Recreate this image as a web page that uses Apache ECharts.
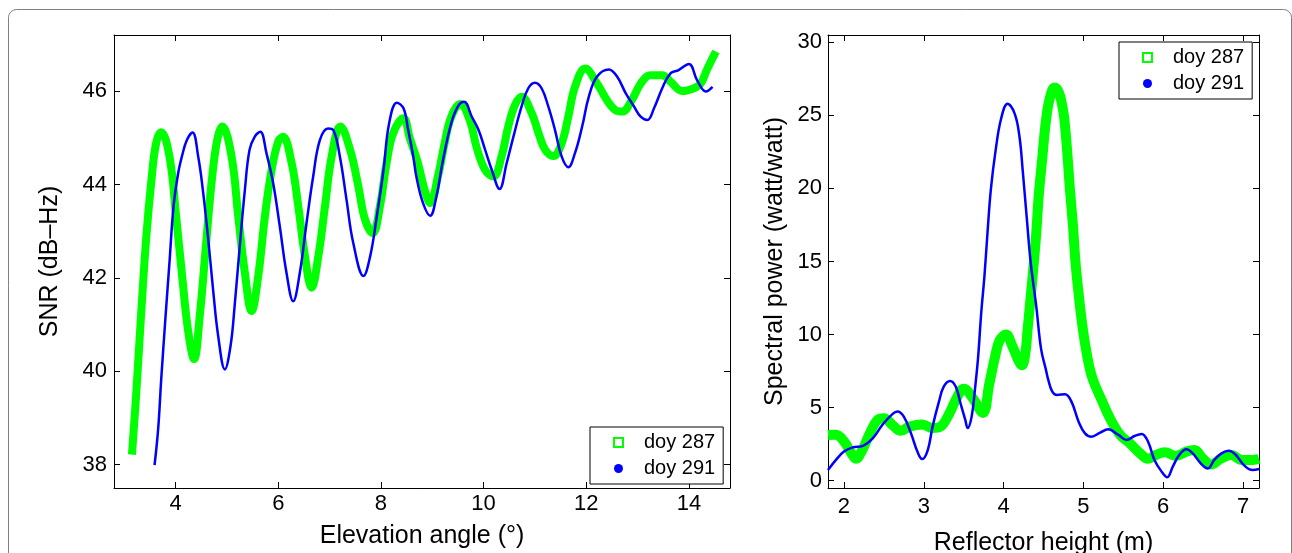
<!DOCTYPE html>
<html>
<head>
<meta charset="utf-8">
<style>
html,body{margin:0;padding:0;background:#fff;}
#chart{width:1292px;height:553px;}
</style>
<script src="https://cdn.jsdelivr.net/npm/echarts@6/dist/echarts.min.js"></script>
</head>
<body>
<div id="chart"></div>
<script>
// ---- Left panel: SNR vs elevation angle ----
const elev287 = [3.155,3.23,3.33,3.43,3.53,3.62,3.72,3.88,4.01,4.14,4.24,4.36,4.47,4.59,4.70,4.81,4.91,5.09,5.22,5.35,5.48,5.61,5.74,5.87,6.00,6.09,6.26,6.39,6.52,6.65,6.78,6.91,7.04,7.21,7.40,7.56,7.69,7.84,7.98,8.11,8.24,8.44,8.56,8.72,8.85,8.96,9.11,9.24,9.37,9.54,9.73,9.86,10.03,10.19,10.35,10.48,10.61,10.74,10.94,11.07,11.20,11.36,11.52,11.65,11.78,11.98,12.21,12.40,12.57,12.70,12.89,13.06,13.25,13.48,13.64,13.87,14.10,14.23,14.36,14.49];
const snr287 = [38.30,39.47,41.25,42.89,44.10,44.88,45.12,44.60,43.32,41.90,40.90,40.26,41.18,42.68,44.03,44.95,45.24,44.60,43.32,42.10,41.29,42.04,43.32,44.31,44.92,45.02,44.46,43.53,42.46,41.79,42.46,43.53,44.60,45.24,44.74,43.96,43.25,42.96,43.53,44.46,45.10,45.42,45.00,44.46,43.89,43.60,44.17,44.88,45.45,45.72,45.38,44.81,44.31,44.17,44.60,45.24,45.70,45.88,45.52,45.10,44.74,44.61,44.88,45.45,46.09,46.48,46.16,45.81,45.59,45.56,45.81,46.16,46.34,46.34,46.20,46.00,46.06,46.16,46.48,46.77];

const elev291 = [3.59,3.66,3.72,3.80,3.88,3.96,4.05,4.13,4.22,4.33,4.44,4.53,4.63,4.73,4.83,4.96,5.07,5.15,5.25,5.35,5.44,5.54,5.65,5.77,5.90,6.03,6.16,6.29,6.42,6.55,6.68,6.81,6.97,7.07,7.20,7.33,7.46,7.66,7.79,7.92,8.05,8.16,8.31,8.44,8.53,8.63,8.69,8.82,8.96,9.08,9.21,9.37,9.50,9.62,9.77,9.90,10.03,10.16,10.31,10.45,10.58,10.74,10.87,11.00,11.13,11.26,11.39,11.52,11.65,11.78,11.92,12.05,12.21,12.44,12.60,12.77,12.93,13.06,13.19,13.32,13.48,13.64,13.80,14.00,14.16,14.33,14.46];
const snr291 = [37.99,38.76,39.83,41.11,42.32,43.53,44.24,44.63,44.95,45.11,44.60,43.89,42.89,41.75,40.75,40.04,40.54,41.40,42.68,43.89,44.74,45.02,45.13,44.67,44.03,43.10,42.11,41.50,42.11,43.17,44.17,44.95,45.20,45.17,44.60,43.67,42.75,42.04,42.46,43.32,44.31,45.31,45.75,45.63,45.17,44.60,44.17,43.60,43.33,43.74,44.53,45.31,45.67,45.77,45.45,45.17,44.74,44.31,43.90,44.46,45.02,45.67,46.06,46.18,46.06,45.67,45.17,44.60,44.37,44.67,45.24,45.88,46.31,46.46,46.31,45.95,45.67,45.45,45.38,45.63,46.06,46.38,46.45,46.58,46.23,45.99,46.09];

// ---- Right panel: spectral power vs reflector height ----
const height287 = [1.80,1.90,2.00,2.09,2.15,2.23,2.32,2.42,2.50,2.61,2.71,2.82,2.98,3.11,3.21,3.32,3.42,3.50,3.62,3.74,3.82,3.89,3.95,4.03,4.11,4.18,4.23,4.27,4.30,4.34,4.38,4.41,4.44,4.48,4.53,4.58,4.64,4.69,4.73,4.76,4.80,4.83,4.87,4.90,4.94,4.98,5.02,5.07,5.12,5.23,5.33,5.46,5.58,5.71,5.81,5.91,6.02,6.16,6.29,6.39,6.49,6.60,6.72,6.85,6.99,7.12,7.20];
const power287 = [3.13,3.15,2.70,1.90,1.50,2.10,3.20,4.15,4.27,3.80,3.42,3.70,3.85,3.60,3.70,4.60,5.75,6.30,5.60,4.64,6.60,8.40,9.60,10.00,9.20,8.30,7.90,8.60,10.30,12.60,15.00,17.00,19.50,21.80,24.60,26.20,26.90,26.60,25.80,24.80,22.30,20.00,17.40,15.00,12.80,10.90,9.40,7.90,6.90,5.50,4.30,3.13,2.56,1.87,1.50,1.76,1.94,1.70,1.99,2.10,1.55,1.10,1.50,1.76,1.42,1.42,1.50];

const height291 = [1.80,1.90,2.00,2.11,2.23,2.36,2.48,2.61,2.67,2.75,2.84,2.92,2.98,3.05,3.11,3.19,3.25,3.33,3.40,3.46,3.52,3.55,3.60,3.64,3.68,3.72,3.76,3.80,3.84,3.90,3.97,4.05,4.14,4.20,4.24,4.29,4.34,4.41,4.47,4.53,4.56,4.61,4.67,4.77,4.85,4.94,5.02,5.10,5.21,5.31,5.44,5.54,5.64,5.73,5.81,5.89,5.98,6.05,6.12,6.20,6.29,6.37,6.47,6.56,6.64,6.73,6.82,6.91,7.01,7.12,7.20];
const power291 = [0.73,1.42,1.99,2.28,2.37,2.90,3.81,4.57,4.73,4.38,3.24,1.99,1.48,2.10,3.70,5.41,6.44,6.83,6.44,5.30,4.16,3.60,4.40,6.20,8.40,11.50,14.00,17.10,19.90,22.60,24.80,25.80,25.10,23.50,21.20,18.00,14.90,11.90,9.00,7.60,6.90,6.10,5.87,5.91,5.41,4.04,3.24,3.01,3.29,3.52,3.13,2.79,3.06,3.20,2.67,1.42,0.62,0.23,0.96,1.76,2.15,1.87,1.19,0.84,1.42,1.87,2.05,1.76,1.07,0.73,0.80];

// ---- Tick labels ----
const snrXTicks = [4,6,8,10,12,14];
const snrYTicks = [38,40,42,44,46];
const specXTicks = [2,3,4,5,6,7];
const specYTicks = [0,5,10,15,20,25,30];

const seriesNames = ['doy 287','doy 291'];

const FONT = "'Liberation Sans', Arial, Helvetica, sans-serif";
const GREEN = '#00ff00';
const BLUE = '#0000ff';

function pairs(xs, ys){ return xs.map((x,i)=>[x, ys[i]]); }

function axisPair(gridIndex, min, max, ticks, isX, name, nameGap, labelMargin){
  const main = {
    type:'value', gridIndex, min, max,
    position: isX ? 'bottom' : 'left',
    name, nameLocation:'middle', nameGap,
    nameTextStyle:{fontFamily:FONT, fontSize:25, color:'#000'},
    axisLine:{show:true, onZero:false, lineStyle:{color:'#000', width:1}},
    axisTick:{show:true, inside:true, length:6, customValues:ticks, lineStyle:{color:'#000', width:1}},
    axisLabel:{show:true, customValues:ticks, margin:labelMargin, fontFamily:FONT, fontSize:22, color:'#000', hideOverlap:false},
    splitLine:{show:false}
  };
  const twin = {
    type:'value', gridIndex, min, max,
    position: isX ? 'top' : 'right',
    axisLine:{show:true, onZero:false, lineStyle:{color:'#000', width:1}},
    axisTick:{show:true, inside:true, length:6, customValues:ticks, lineStyle:{color:'#000', width:1}},
    axisLabel:{show:false},
    splitLine:{show:false}
  };
  return [main, twin];
}

const [lx0, lx1] = axisPair(0, 2.8, 14.8, snrXTicks, true, 'Elevation angle (°)', 36, 5);
const [ly0, ly1] = axisPair(0, 37.5, 47.2, snrYTicks, false, 'SNR (dB–Hz)', 51, 7);
const [rx0, rx1] = axisPair(1, 1.8, 7.2, specXTicks, true, 'Reflector height (m)', 43, 8);
const [ry0, ry1] = axisPair(1, -0.5, 30.5, specYTicks, false, 'Spectral power (watt/watt)', 40, 6);

function legendCfg(left, top){
  return {
    orient:'vertical', left, top,
    padding:[5, 8, 5, 23],
    itemGap:5,
    itemWidth:9, itemHeight:9,
    backgroundColor:'#fff', borderColor:'#000', borderWidth:1, borderRadius:0,
    selectedMode:false,
    textStyle:{fontFamily:FONT, fontSize:20, color:'#000', lineHeight:21, padding:[0,0,0,16]},
    data:[
      {name:seriesNames[0], icon:'rect', itemStyle:{color:'#fff', borderColor:GREEN, borderWidth:2}},
      {name:seriesNames[1], icon:'circle', itemStyle:{color:BLUE, borderWidth:0}}
    ]
  };
}

const option = {
  backgroundColor:'#fff',
  animation:false,
  graphic:[{
    type:'rect', silent:true, z:-10,
    shape:{x:8.5, y:9.5, width:1283, height:600, r:8},
    style:{fill:'none', stroke:'#808080', lineWidth:1}
  }],
  grid:[
    {left:114, top:35, width:616, height:453, show:false, outerBoundsMode:'none', containLabel:false},
    {left:828, top:35, width:431, height:453, show:false, outerBoundsMode:'none', containLabel:false}
  ],
  xAxis:[lx0, lx1, rx0, rx1],
  yAxis:[ly0, ly1, ry0, ry1],
  legend:[legendCfg(590, 427), legendCfg(1119, 42)],
  series:[
    {name:seriesNames[0], type:'line', xAxisIndex:0, yAxisIndex:0, data:pairs(elev287, snr287),
     smooth:0.4, showSymbol:false, symbol:'rect', itemStyle:{color:GREEN},
     lineStyle:{color:GREEN, width:8, cap:'square', join:'round'}, z:2},
    {name:seriesNames[1], type:'line', xAxisIndex:0, yAxisIndex:0, data:pairs(elev291, snr291),
     smooth:0.4, showSymbol:false, symbol:'circle', itemStyle:{color:BLUE},
     lineStyle:{color:BLUE, width:2.5, join:'round'}, z:3},
    {name:seriesNames[0], type:'line', xAxisIndex:2, yAxisIndex:2, data:pairs(height287, power287),
     smooth:0.4, showSymbol:false, symbol:'rect', itemStyle:{color:GREEN},
     lineStyle:{color:GREEN, width:10, join:'round'}, z:2},
    {name:seriesNames[1], type:'line', xAxisIndex:2, yAxisIndex:2, data:pairs(height291, power291),
     smooth:0.4, showSymbol:false, symbol:'circle', itemStyle:{color:BLUE},
     lineStyle:{color:BLUE, width:2.5, join:'round'}, z:3}
  ]
};

const chart = echarts.init(document.getElementById('chart'), null, {renderer:'canvas'});
chart.setOption(option);
</script>
</body>
</html>
